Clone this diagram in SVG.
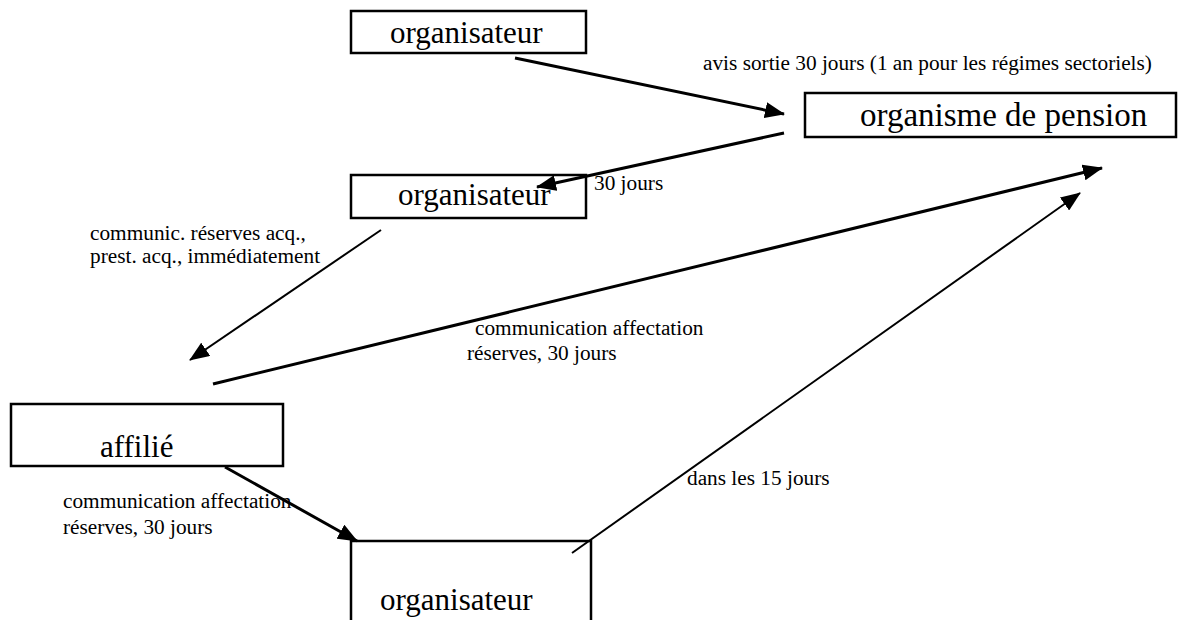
<svg xmlns="http://www.w3.org/2000/svg" width="1179" height="620" viewBox="0 0 1179 620">
  <style>
    .box { fill: #fff; stroke: #000; stroke-width: 2.5; }
    .name { font-family: "Liberation Serif", "Times New Roman", serif; font-size: 31px; fill: #000; }
    .big { font-size: 33px; }
    .label { font-family: "Liberation Serif", "Times New Roman", serif; font-size: 21.3px; fill: #000; }
    .wire { fill: none; stroke: #000; stroke-width: 3; marker-end: url(#head); }
    .thin { stroke-width: 2; }
  </style>
  <defs>
    <marker id="head" markerUnits="userSpaceOnUse" markerWidth="22" markerHeight="16" refX="19" refY="8" orient="auto">
      <path d="M0,0 L20,8 L0,16 z" fill="#000"/>
    </marker>
  </defs>
  <rect width="1179" height="620" fill="#fff"/>

  <g id="organisateur-top">
    <rect class="box" x="351" y="11" width="235" height="42"/>
    <text class="name" x="390" y="43">organisateur</text>
  </g>

  <g id="organisme-pension">
    <rect class="box" x="805" y="93" width="371" height="44"/>
    <text class="name big" x="860" y="126">organisme de pension</text>
  </g>

  <g id="organisateur-mid">
    <rect class="box" x="351" y="175" width="235" height="43"/>
    <text class="name" x="398" y="205">organisateur</text>
  </g>

  <g id="affilie">
    <rect class="box" x="11" y="404" width="272" height="62"/>
    <text class="name" x="100" y="457">affilié</text>
  </g>

  <g id="organisateur-bottom">
    <rect class="box" x="351" y="541" width="240" height="100"/>
    <text class="name" x="380" y="610">organisateur</text>
  </g>

  <g id="connectors">
    <line class="wire" x1="515" y1="58" x2="784" y2="114"/>
    <line class="wire" x1="784" y1="133" x2="537" y2="187"/>
    <line class="wire thin" x1="381" y1="230" x2="190" y2="360"/>
    <line class="wire" x1="213" y1="384" x2="1102" y2="168"/>
    <line class="wire thin" x1="572" y1="553" x2="1080" y2="193"/>
    <line class="wire" x1="225" y1="467" x2="357" y2="541"/>
  </g>

  <g id="labels">
    <text class="label" x="703" y="70">avis sortie 30 jours (1 an pour les régimes sectoriels)</text>
    <text class="label" x="594" y="190">30 jours</text>
    <text class="label" x="90" y="240">communic. réserves acq.,</text>
    <text class="label" x="90" y="263">prest. acq., immédiatement</text>
    <text class="label" x="475" y="335">communication affectation</text>
    <text class="label" x="467" y="360">réserves, 30 jours</text>
    <text class="label" x="687" y="485">dans les 15 jours</text>
    <text class="label" x="63" y="508">communication affectation</text>
    <text class="label" x="63" y="534">réserves, 30 jours</text>
  </g>
</svg>
